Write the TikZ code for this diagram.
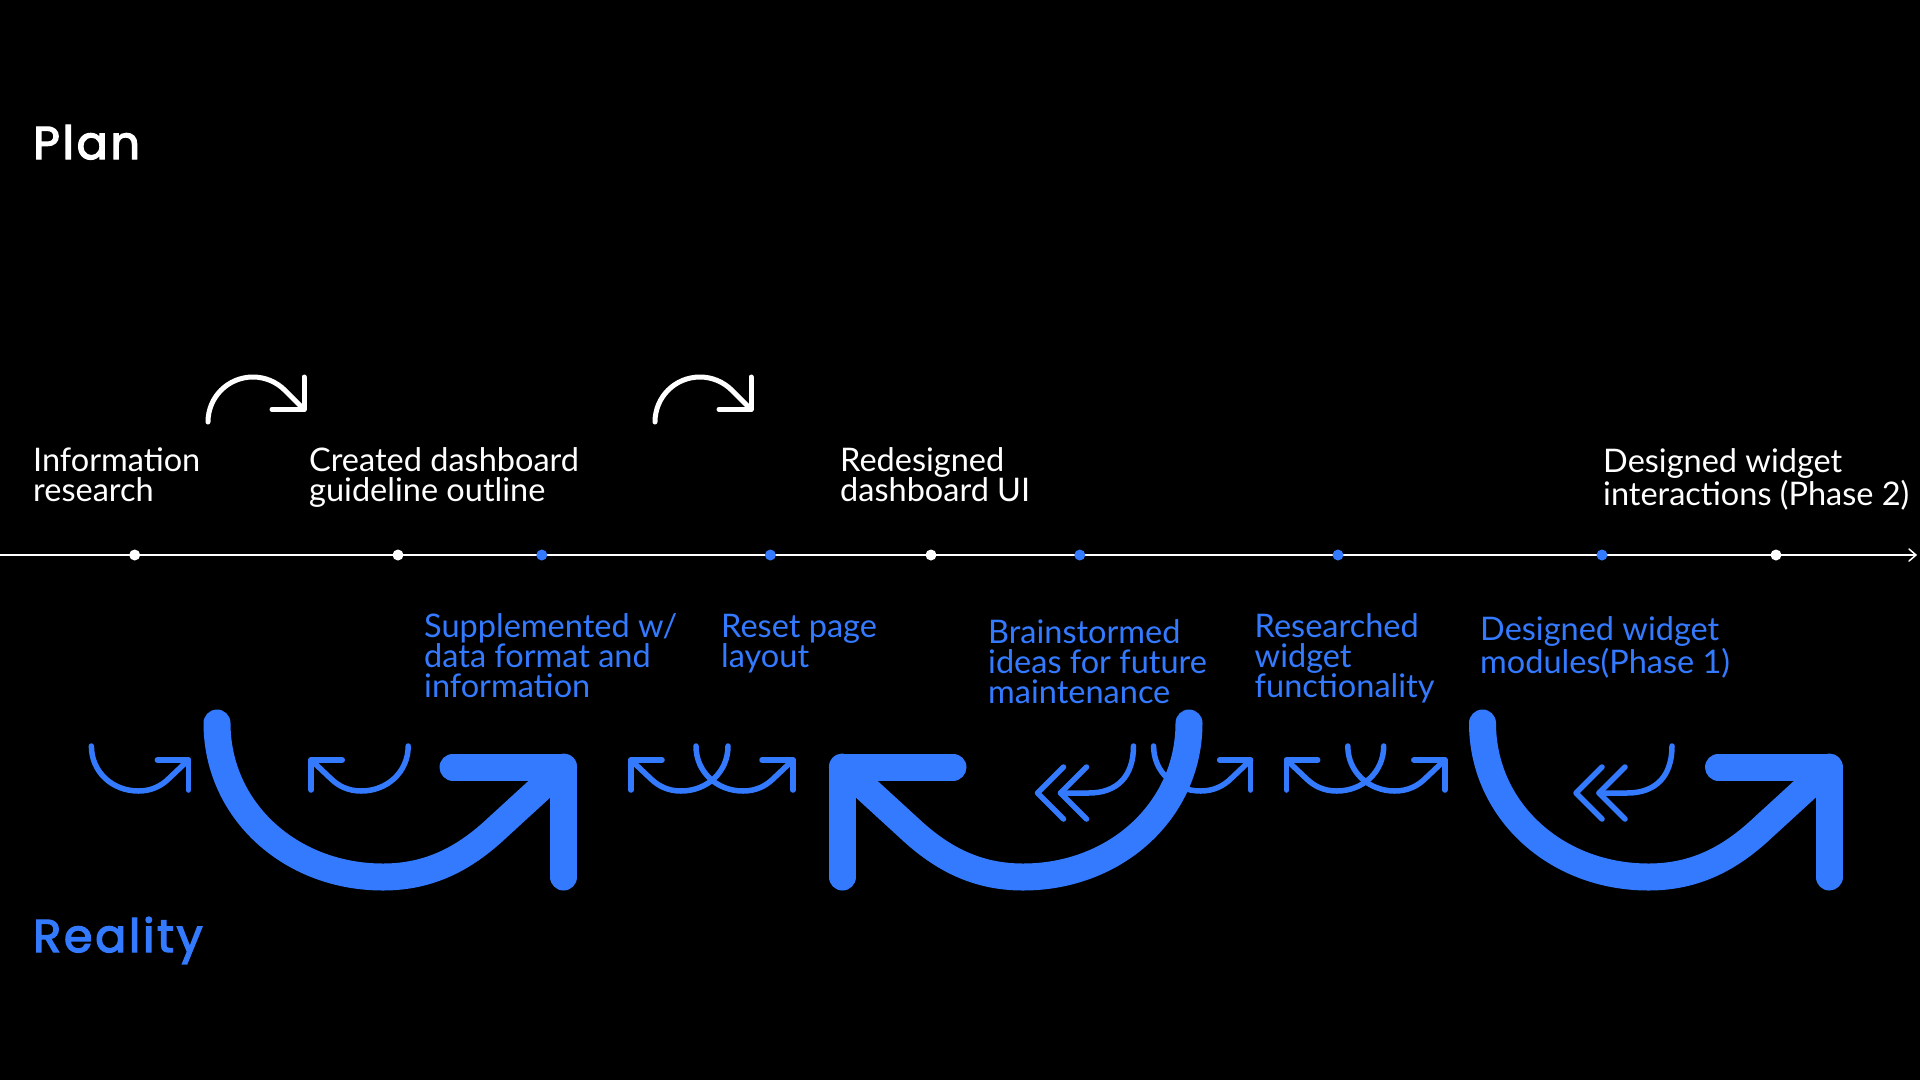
\documentclass[tikz,border=0pt]{standalone}
\usepackage{fontspec}
\setmainfont{Lato}
\newfontfamily\headfont{Poppins}[LetterSpace=6, FakeBold=3]
\definecolor{rblue}{RGB}{51,122,255}
\begin{document}
\begin{tikzpicture}[x=1pt,y=-1pt,
  thinarrow/.style={draw=rblue, line width=5.5pt, line cap=round, line join=round},
  thickarrow/.style={draw=rblue, line width=27pt, line cap=round, line join=round},
  planarrow/.style={draw=white, line width=5pt, line cap=round, line join=round},
  planlabel/.style={text=white, anchor=base west, align=left, inner sep=0pt, font=\fontsize{32.5}{30}\selectfont},
  reallabel/.style={planlabel, text=rblue},
  headlabel/.style={anchor=base west, inner sep=0pt, font=\headfont\fontsize{46}{46}\selectfont},
  wdot/.style={circle, fill=white, inner sep=0pt, minimum size=11pt},
  bdot/.style={circle, fill=rblue, inner sep=0pt, minimum size=11pt},
  curlR/.pic={
    \draw[thinarrow] (0,0) .. controls (0,26) and (21,45) .. (47,45) .. controls (60,45) and (70,40) .. (78,32) -- (97,14);
    \draw[thinarrow] (66,14) -- (97,14) -- (97,44);
  },
  dchev/.pic={
    \draw[thinarrow] (0,0) .. controls (0,30) and (-16,47) .. (-45,47) -- (-73,47);
    \draw[thinarrow] (-47,21) -- (-73,47) -- (-47,73);
    \draw[thinarrow] (-70,21) -- (-96,47) -- (-70,73);
  },
  bigR/.pic={
    \draw[thickarrow] (0,723) .. controls (0,810) and (73,877) .. (166,877) .. controls (213,877) and (248,858) .. (280,828) -- (346.6,767);
    \draw[thickarrow] (236,767) -- (346.6,767) -- (346.6,877);
  },
  planturn/.pic={
    \draw[planarrow] (0,422) .. controls (0,397) and (20,377) .. (45,377) .. controls (56.9,377) and (68.4,381.8) .. (76.8,390.2) -- (96,409.4);
    \draw[planarrow] (64,409.4) -- (96,409.4) -- (96,377);
  }
]
\fill[black] (0,0) rectangle (1920,1080);
\useasboundingbox (0,0) rectangle (1920,1080);

% headings
\node[headlabel, text=white] (plan) at (33,159) {Plan};
\node[headlabel, text=rblue] (reality) at (33,952) {Reality};

% timeline
\coordinate (tl0) at (0,555);
\coordinate (tl1) at (1916,555);
\draw[white, line width=2pt] (tl0) -- (tl1);
\draw[white, line width=1.5pt, line cap=round, line join=round] (1909,549) -- (tl1) -- (1909,561);

\node[wdot] (d1) at (134.7,555) {};
\node[wdot] (d2) at (398,555) {};
\node[bdot] (d3) at (541.8,555) {};
\node[bdot] (d4) at (770.4,555) {};
\node[wdot] (d5) at (931,555) {};
\node[bdot] (d6) at (1079.8,555) {};
\node[bdot] (d7) at (1338,555) {};
\node[bdot] (d8) at (1602,555) {};
\node[wdot] (d9) at (1776,555) {};

% plan labels (anchor = baseline of last line)
\node[planlabel] (t1) at (33,501) {Information\\research};
\node[planlabel] (t2) at (309,501) {Created dashboard\\guideline outline};
\node[planlabel] (t3) at (840,501) {Redesigned\\dashboard UI};
\node[planlabel] (t4) at (1603,505) {Designed widget\\interactions (Phase 2)};

% plan turn arrows
\pic at (208,0) {planturn};
\pic at (655,0) {planturn};

% reality labels
\node[reallabel] (r1) at (424,697) {Supplemented w/\\data format and\\information};
\node[reallabel] (r2) at (721,667) {Reset page\\layout};
\node[reallabel] (r3) at (988,703) {Brainstormed\\ideas for future\\maintenance};
\node[reallabel] (r4) at (1254.5,697) {Researched\\widget\\functionality};
\node[reallabel] (r5) at (1480,673) {Designed widget\\modules(Phase 1)};

% big arrows
\pic at (217,0) {bigR};
\pic[xscale=-1] at (1189,0) {bigR};
\pic at (1482.5,0) {bigR};

% small curl arrows
\pic at (91.4,746) {curlR};
\pic[xscale=-1] at (408.2,746) {curlR};
\pic[xscale=-1] at (728,746) {curlR};
\pic at (696,746) {curlR};
\pic at (1153.6,746) {curlR};
\pic[xscale=-1] at (1383.7,746) {curlR};
\pic at (1347.8,746) {curlR};

% double chevron arrows
\pic at (1133.5,746) {dchev};
\pic at (1672,746) {dchev};
\end{tikzpicture}
\end{document}
